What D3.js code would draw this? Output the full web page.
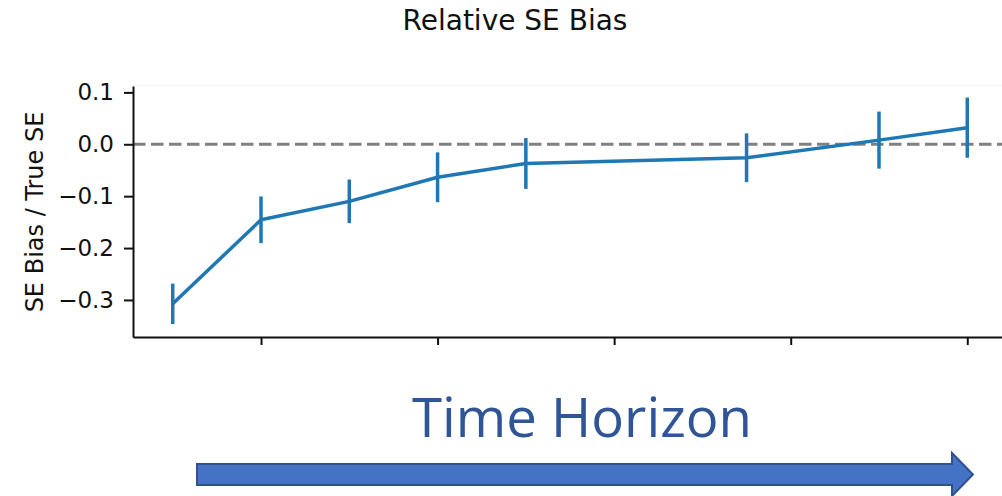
<!DOCTYPE html>
<html>
<head>
<meta charset="utf-8">
<script src="https://cdn.jsdelivr.net/npm/d3@7"></script>
<style>
    body { margin: 0; background: white; }
    svg { display: block; }
</style>
</head>
<body>
<div id="chart"></div>
<script>

// data
const horizon = [1, 2, 3, 4, 5, 7.5, 9, 10];
const relBias = [-0.3075, -0.1455, -0.110, -0.0636, -0.037, -0.026, 0.008, 0.032];
const biasErr = [0.039, 0.045, 0.042, 0.048, 0.049, 0.047, 0.055, 0.058];
const xTicks = [2, 4, 6, 8, 10];
const yTicks = [0.1, 0.0, -0.1, -0.2, -0.3];

const W = 1002, H = 496;
const margin = { top: 86, left: 133, bottom: 337, right: 1007 };

let svg = d3.select("#chart").append("svg")
    .attr("width", W)
    .attr("height", H);

let x = d3.scaleLinear()
    .domain([0.55, 10.45])
    .range([margin.left, margin.right]);

let y = d3.scaleLinear()
    .domain([-0.3714, 0.1123])
    .range([margin.bottom, margin.top]);

// title
svg.append("text")
    .attr("x", 515)
    .attr("y", 30)
    .attr("text-anchor", "middle")
    .style("font-family", "DejaVu Sans")
    .style("font-size", "28px")
    .attr("fill", "#111")
    .text("Relative SE Bias");

// faint top edge
svg.append("line")
    .attr("x1", margin.left).attr("x2", W)
    .attr("y1", margin.top - 0.5).attr("y2", margin.top - 0.5)
    .attr("stroke", "#f2f2f2")
    .attr("stroke-width", 1);

// zero reference line
svg.append("line")
    .attr("x1", margin.left).attr("x2", W)
    .attr("y1", y(0)).attr("y2", y(0))
    .attr("stroke", "#808080")
    .attr("stroke-width", 3.2)
    .attr("stroke-dasharray", "12.5,5.5");

// axes
let yAxis = d3.axisLeft(y)
    .tickValues(yTicks)
    .tickFormat(d => d3.format(".1f")(d).replace("-", "\u2212"))
    .tickSizeInner(9)
    .tickSizeOuter(0)
    .tickPadding(10);

let xAxis = d3.axisBottom(x)
    .tickValues(xTicks)
    .tickFormat("")
    .tickSizeInner(8)
    .tickSizeOuter(0);

let gy = svg.append("g")
    .attr("transform", "translate(" + margin.left + ",0)")
    .call(yAxis);

let gx = svg.append("g")
    .attr("transform", "translate(0," + margin.bottom + ")")
    .call(xAxis);

[gx, gy].forEach(g => {
    g.select(".domain").attr("stroke", "#111").attr("stroke-width", 2);
    g.selectAll(".tick line").attr("stroke", "#111").attr("stroke-width", 2);
    g.selectAll(".tick text")
        .attr("fill", "#111")
        .style("font-family", "DejaVu Sans")
        .style("font-size", "23px");
});

// y label
svg.append("text")
    .attr("transform", "translate(43," + 212 + ") rotate(-90)")
    .attr("text-anchor", "middle")
    .style("font-family", "DejaVu Sans")
    .style("font-size", "24px")
    .attr("fill", "#111")
    .text("SE Bias / True SE");

// error bars
const pts = horizon.map((h, i) => ({ h: h, v: relBias[i], e: biasErr[i] }));

svg.selectAll(".err")
    .data(pts)
    .enter()
    .append("line")
    .attr("class", "err")
    .attr("x1", d => x(d.h)).attr("x2", d => x(d.h))
    .attr("y1", d => y(d.v - d.e)).attr("y2", d => y(d.v + d.e))
    .attr("stroke", "#1f77b4")
    .attr("stroke-width", 3.5);

// line
const line = d3.line()
    .x(d => x(d.h))
    .y(d => y(d.v));

svg.append("path")
    .attr("d", line(pts))
    .attr("fill", "none")
    .attr("stroke", "#1f77b4")
    .attr("stroke-width", 3.5)
    .attr("stroke-linejoin", "round");

// Time Horizon annotation
svg.append("text")
    .attr("x", 582)
    .attr("y", 437)
    .attr("text-anchor", "middle")
    .attr("textLength", 340)
    .attr("lengthAdjust", "spacingAndGlyphs")
    .style("font-family", "'Open Sans'")
    .style("font-size", "55px")
    .attr("fill", "#2F5597")
    .text("Time Horizon");

// arrow
const arrow = d3.path();
arrow.moveTo(197, 464);
arrow.lineTo(952, 464);
arrow.lineTo(952, 453);
arrow.lineTo(973, 474.5);
arrow.lineTo(952, 496);
arrow.lineTo(952, 485);
arrow.lineTo(197, 485);
arrow.closePath();

svg.append("path")
    .attr("d", arrow.toString())
    .attr("fill", "#4472C4")
    .attr("stroke", "#2F528F")
    .attr("stroke-width", 2);

</script>
</body>
</html>
